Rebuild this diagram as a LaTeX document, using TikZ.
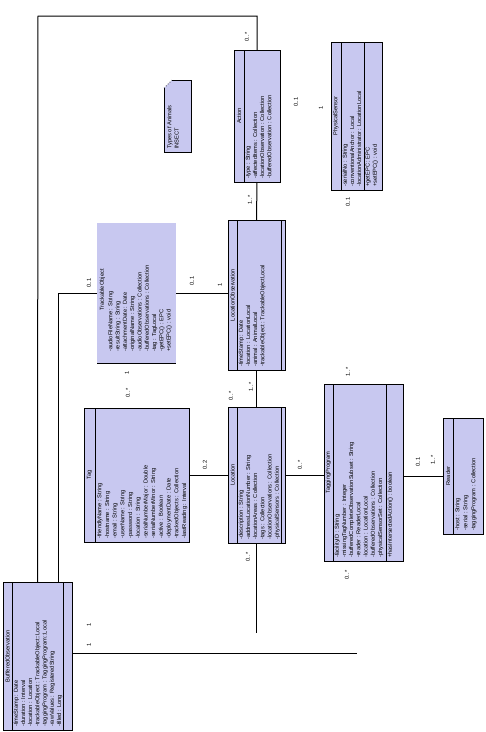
\documentclass[tikz,border=0pt]{standalone}
\usepackage{fontspec}
\setmainfont{Liberation Sans}
\definecolor{umlfill}{RGB}{200,200,240}
\tikzset{
  umlbox/.style={draw=black, line width=1pt, fill=umlfill, inner sep=0pt, outer sep=0pt},
  filledonly/.style={fill=umlfill, inner sep=0pt, outer sep=0pt},
  sepline/.style={draw=black, line width=1pt},
  conn/.style={draw=black, line width=1pt},
  txt/.style={rotate=90, anchor=north west, align=left, inner sep=0pt, font=\fontsize{5.7}{#1}\selectfont},
  txt/.default=7.2,
  cname/.style={rotate=90, inner sep=0pt, font=\fontsize{5.7}{7}\selectfont},
  mult/.style={rotate=90, inner sep=0pt, font=\fontsize{5.7}{7}\selectfont},
}
\begin{document}
\begin{tikzpicture}[x=1pt,y=-1pt]
\useasboundingbox (0,0) rectangle (486,732);

\coordinate (topbend) at (38,16);
\coordinate (locend) at (256.5,633);
\coordinate (bufend) at (357,653);

% BufferedObservation
\node[umlbox, minimum width=69pt, minimum height=148pt] (buf) at (37.5,656) {};
\draw[sepline] (12,582) -- (12,730);
\draw[sepline] (63,582) -- (63,730);
\node[cname] at (7.5,656) {BufferedObservation};
\node[txt] at (13.5,727) {-timeStamp : Date\\-duration : Interval\\-location : Location\\-trackableObject : TrackableObject::Local\\-taggingProgram : TaggingProgram::Local\\-rawValues : RegisteredString\\-filled : Long};

% Action
\node[umlbox, minimum width=46pt, minimum height=132pt] (act) at (257,116) {};
\draw[sepline] (244,50) -- (244,182);
\node[cname] at (239,116) {Action};
\node[txt] at (245.5,179) {-type : String\\-affectedItems : Collection\\-locationObservation : Collection\\-bufferedObservation : Collection};

% PhysicalSensor
\node[umlbox, minimum width=51pt, minimum height=148pt] (phys) at (356.5,116) {};
\draw[sepline] (341,42) -- (341,190);
\draw[sepline] (364,42) -- (364,190);
\node[cname] at (336,116) {PhysicalSensor};
\node[txt] at (342.5,187) {-serialNo : String\\-conventionalAnchor : Local\\-locationAdministrator : LocationLocal};
\node[txt] at (365.5,187) {+getEPC : EPC\\+setEPC() : void};

% Note
\fill[umlfill] (164,88) -- (172,80) -- (191,80) -- (191,152) -- (164,152) -- cycle;
\draw[line width=1pt] (172,80) -- (191,80) -- (191,152) -- (164,152) -- (164,88);
\draw[dotted, line width=0.7pt] (164,88) -- (172,80);
\node[txt] (note) at (167,149) {Types of Animals\\INSECT};

% TrackableObject
\node[filledonly, minimum width=79pt, minimum height=140pt] (trk) at (136.5,293) {};
\draw[sepline] (97,363) -- (176,363);
\node[cname] at (102.5,290) {TrackableObject};
\node[txt=7.3] at (108,352) {-audioFileName : String\\-resultString : String\\-attachmentDate : Date\\-originalName : String\\-audioObservations : Collection\\-bufferedObservations : Collection\\-tag : TagLocal\\-getEPC() : EPC\\+setEPC() : void};

% LocationObservation
\node[umlbox, minimum width=57pt, minimum height=150pt] (lobs) at (256.5,295) {};
\draw[sepline] (237,220) -- (237,370);
\draw[sepline] (281,220) -- (281,370);
\node[cname] at (232.5,295) {LocationObservation};
\node[txt] at (238.5,367) {-timeStamp : Date\\-location : LocationLocal\\-animal : AnimalLocal\\-trackableObject : TrackableObjectLocal};

% Tag
\node[umlbox, minimum width=105pt, minimum height=134pt] (tag) at (136.5,475) {};
\draw[sepline] (95,408) -- (95,542);
\node[cname] at (89.5,475) {Tag};
\node[txt=7.7] at (97,539) {-friendlyName : String\\-hostname : String\\-email : String\\-userName : String\\-password : String\\-location : String\\-serialNumberMajor : Double\\-serialNumberMinor : String\\-active : Boolean\\-deploymentDate : Date\\-trackedObjects : Collection\\-lastReading : Interval};

% Location
\node[umlbox, minimum width=57pt, minimum height=136pt] (loc) at (256.5,475) {};
\draw[sepline] (237,407) -- (237,543);
\draw[sepline] (281,407) -- (281,543);
\node[cname] at (232.5,475) {Location};
\node[txt] at (238.5,540) {-description : String\\-addressLocationNumber : String\\-locationAreas : Collection\\-tags : Collection\\-locationObservations : Collection\\-physicalSensors : Collection};

% TaggingProgram
\node[umlbox, minimum width=79pt, minimum height=177pt] (tprog) at (363.5,472.5) {};
\draw[sepline] (333,384) -- (333,561);
\draw[sepline] (386,384) -- (386,561);
\node[cname] at (328.5,472.5) {TaggingProgram};
\node[txt] at (334.5,558) {-facilityID : String\\-missingTagNumber : Integer\\-bufferedCompleteObservationSubset : String\\-reader : ReaderLocal\\-location : LocationLocal\\-bufferedObservations : Collection\\-physicalSensorSet : Collection};
\node[txt] at (387.5,558) {+hasIntersectedAction() : boolean};

% Reader
\node[umlbox, minimum width=40pt, minimum height=116pt] (rdr) at (463,476) {};
\draw[sepline] (453,418) -- (453,534);
\node[cname] at (448,476) {Reader};
\node[txt=8] at (455,531) {-host : String\\-serial : String\\-taggingProgram : Collection};

% connectors
\draw[conn] (act.north) |- (topbend) -- (buf.north);
\draw[conn] (trk.west) -| ([xshift=20.5pt]buf.north);
\draw[conn] (trk.east) -- (trk.east -| lobs.west);
\draw[conn] (act.south) -- (lobs.north);
\draw[conn] (lobs.south) -- (loc.north);
\draw[conn] (tag.east) -- (loc.west);
\draw[conn] (loc.east) -- (loc.east -| tprog.west);
\draw[conn] (tprog.east |- rdr.west) -- (rdr.west);
\draw[conn] (loc.south) -- (locend);
\draw[conn] (buf.east |- bufend) -- (bufend);

% multiplicities
\node[mult] at (247,37) {0..*};
\node[mult] at (250,200) {1..*};
\node[mult] at (296,102) {0..1};
\node[mult] at (321,108) {1};
\node[mult] at (348,202) {0..1};
\node[mult] at (89,283) {0..1};
\node[mult] at (192,281) {0..1};
\node[mult] at (220,285) {1};
\node[mult] at (127,373) {1};
\node[mult] at (128,393) {0..*};
\node[mult] at (251,387) {1..*};
\node[mult] at (231,396) {0..*};
\node[mult] at (205,465) {0..2};
\node[mult] at (300,465) {0..*};
\node[mult] at (348,372) {1..*};
\node[mult] at (347,575) {0..*};
\node[mult] at (418,462) {0..1};
\node[mult] at (433,460) {1..*};
\node[mult] at (248,557) {0..*};
\node[mult] at (89,625) {1};
\node[mult] at (89,645) {1};
\end{tikzpicture}
\end{document}
